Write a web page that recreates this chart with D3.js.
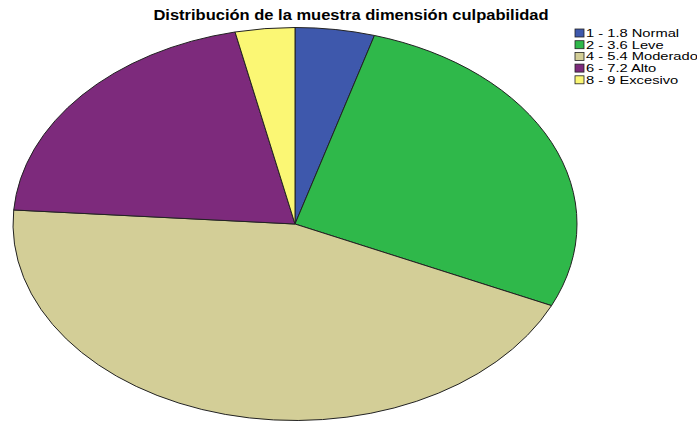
<!DOCTYPE html>
<html><head><meta charset="utf-8">
<script src="https://cdn.jsdelivr.net/npm/d3@7"></script>
<style>body{margin:0;background:#fff;} svg{display:block;}</style>
</head><body>
<svg id="c" width="697" height="421"></svg>
<script>
const categories = ["1 - 1.8 Normal","2 - 3.6 Leve","4 - 5.4 Moderado","6 - 7.2 Alto","8 - 9 Excesivo"];
const values = [4, 24, 39, 18, 3];
const colors = ["#3e58ac","#2fb84a","#d3ce97","#7d2a7c","#fbf774"];
const title = "Distribución de la muestra dimensión culpabilidad";

const svg = d3.select("#c");
const cx = 295, cy = 224, rx = 282, ry = 196.5, R = 100;

const pie = d3.pie().sort(null).value(d => d);
const arc = d3.arc().innerRadius(0).outerRadius(R);
const color = d3.scaleOrdinal().domain(categories).range(colors);

const g = svg.append("g").attr("transform", `translate(${cx},${cy}) scale(${rx/R},${ry/R})`);
g.selectAll("path").data(pie(values)).join("path")
  .attr("d", arc)
  .attr("fill", (d,i) => color(categories[i]))
  .attr("stroke", "#222")
  .attr("stroke-width", 1)
  .attr("vector-effect", "non-scaling-stroke");

svg.append("g").attr("transform", "translate(351,20) scale(1.18,1)")
  .append("text").attr("x", 0).attr("y", 0).attr("text-anchor", "middle")
  .attr("font-family", "Liberation Sans, Arial, sans-serif").attr("font-weight", "bold")
  .attr("font-size", 14).attr("fill", "#000").text(title);

const lg = svg.append("g").attr("transform", "translate(575,29)");
const items = lg.selectAll("g").data(categories).join("g")
  .attr("transform", (d,i) => `translate(0,${i*11.7})`);
items.append("rect").attr("width", 9).attr("height", 8)
  .attr("fill", d => color(d)).attr("stroke", "#222").attr("stroke-width", 0.8);
items.append("g").attr("transform", "translate(11,8) scale(1.4,1)")
  .append("text").attr("x", 0).attr("y", 0)
  .attr("font-family", "Liberation Sans, Arial, sans-serif").attr("font-size", 10.5)
  .attr("fill", "#000").text(d => d);
</script>
</body></html>
